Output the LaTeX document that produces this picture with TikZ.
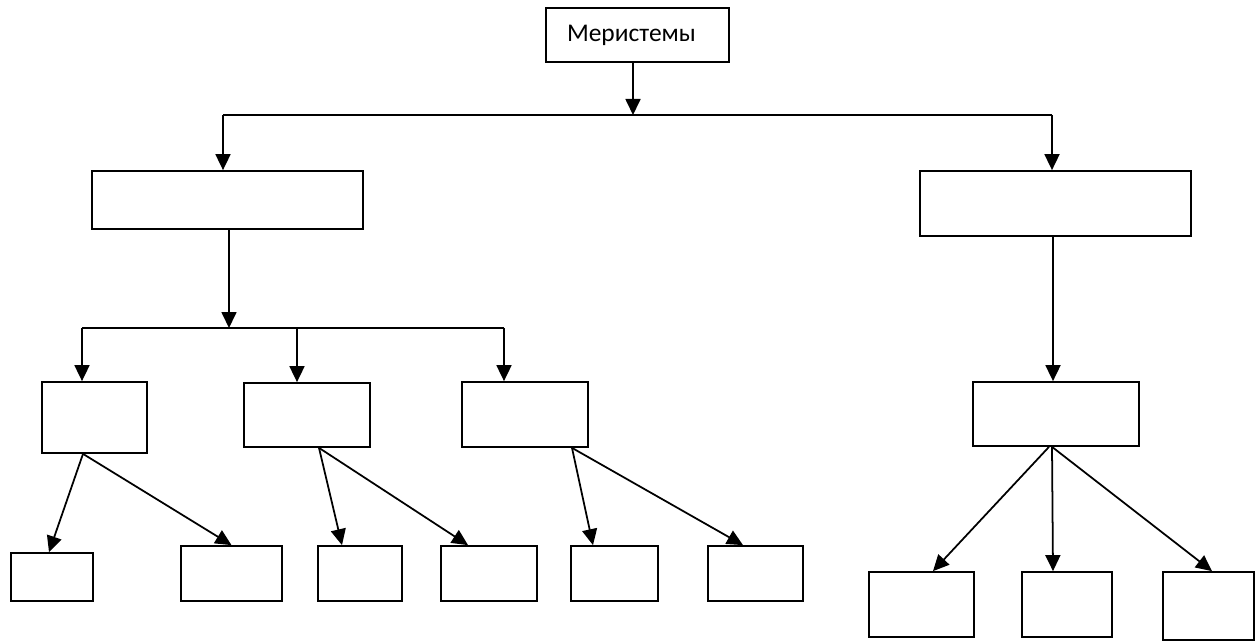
\documentclass[tikz,border=0pt]{standalone}
\usepackage{fontspec}
\setmainfont{Carlito}
\usetikzlibrary{arrows.meta}
\begin{document}
\begin{tikzpicture}[x=0.02cm, y=-0.02cm,
  box/.style={draw, line width=1pt, inner sep=0pt},
  arr/.style={line width=1pt, -{Triangle[length=0.32cm, width=0.3cm]}}]
\useasboundingbox (0,0) rectangle (1257,641);
% top
\node[box, minimum height=1.08cm, text width=2.82cm, inner xsep=0.42cm, align=left,
  font=\fontsize{14.5}{17}\selectfont] (mer) at (637.5,35) {Меристемы};
% second level
\node[box, minimum width=5.42cm, minimum height=1.16cm] (left) at (227.5,200) {};
\node[box, minimum width=5.42cm, minimum height=1.30cm] (right) at (1055.5,203.5) {};
% third level
\node[box, minimum width=2.10cm, minimum height=1.42cm] (a) at (94.5,417.5) {};
\node[box, minimum width=2.52cm, minimum height=1.28cm] (b) at (307,415) {};
\node[box, minimum width=2.52cm, minimum height=1.30cm] (c) at (525,414.5) {};
\node[box, minimum width=3.32cm, minimum height=1.28cm] (r) at (1056,414) {};
% leaves
\node[box, minimum width=1.64cm, minimum height=0.96cm] (a1) at (52,577) {};
\node[box, minimum width=2.02cm, minimum height=1.10cm] (a2) at (231.5,573.5) {};
\node[box, minimum width=1.68cm, minimum height=1.10cm] (b1) at (360,573.5) {};
\node[box, minimum width=1.92cm, minimum height=1.10cm] (b2) at (489,573.5) {};
\node[box, minimum width=1.74cm, minimum height=1.10cm] (c1) at (614.5,573.5) {};
\node[box, minimum width=1.90cm, minimum height=1.10cm] (c2) at (755.5,573.5) {};
\node[box, minimum width=2.10cm, minimum height=1.30cm] (r1) at (921.5,604.5) {};
\node[box, minimum width=1.80cm, minimum height=1.30cm] (r2) at (1067,604.5) {};
\node[box, minimum width=1.82cm, minimum height=1.36cm] (r3) at (1208.5,606) {};
% junctions
\coordinate (j0) at (633,115);
\coordinate (jl) at (223,115);
\coordinate (jr) at (1052,115);
\coordinate (j1) at (229,328);
\coordinate (ja) at (82,328);
\coordinate (jb) at (297,328);
\coordinate (jc) at (504,328);
\coordinate (j2) at (1053,236);
\draw[arr] (j0 |- mer.south) -- (j0);
\draw[line width=1pt] (jl) -- (jr);
\draw[arr] (jl) -- (jl |- left.north);
\draw[arr] (jr) -- (jr |- right.north);
\draw[arr] (j1 |- left.south) -- (j1);
\draw[line width=1pt] (ja) -- (jc);
\draw[arr] (ja) -- (ja |- a.north);
\draw[arr] (jb) -- (jb |- b.north);
\draw[arr] (jc) -- (jc |- c.north);
\draw[arr] (j2 |- right.south) -- (j2 |- r.north);
% branches
\draw[arr] ([xshift=-0.23cm]a.south) -- ([xshift=-0.06cm]a1.north);
\draw[arr] ([xshift=-0.23cm]a.south) -- (a2.north);
\draw[arr] ([xshift=0.24cm]b.south) -- ([xshift=-0.36cm]b1.north);
\draw[arr] ([xshift=0.24cm]b.south) -- ([xshift=-0.42cm]b2.north);
\draw[arr] ([xshift=0.94cm]c.south) -- ([xshift=-0.43cm]c1.north);
\draw[arr] ([xshift=0.94cm]c.south) -- ([xshift=-0.25cm]c2.north);
\draw[arr] ([xshift=-0.14cm]r.south) -- ([xshift=0.23cm]r1.north);
\draw[arr] ([xshift=-0.08cm]r.south) -- ([xshift=-0.28cm]r2.north);
\draw[arr] ([xshift=-0.08cm]r.south) -- ([xshift=0.07cm]r3.north);
\end{tikzpicture}
\end{document}
